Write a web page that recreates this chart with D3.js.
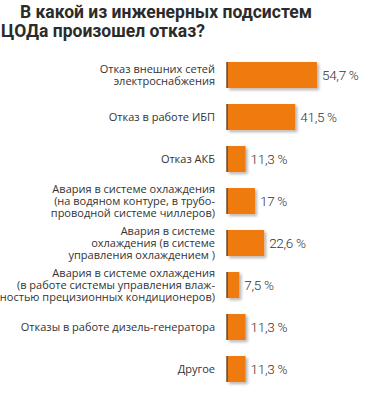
<!DOCTYPE html>
<html>
<head>
<meta charset="utf-8">
<script src="https://cdn.jsdelivr.net/npm/d3@7"></script>
<style>
  body { margin: 0; background: #fff; }
  text { font-family: Roboto, "Open Sans", sans-serif; fill: #333; }
</style>
</head>
<body>
<div id="chart"></div>
<script>
// data
const titleLines = ["В какой из инженерных подсистем", "ЦОДа произошел отказ?"];
const categories = [
  ["Отказ внешних сетей", "электроснабжения"],
  ["Отказ в работе ИБП"],
  ["Отказ АКБ"],
  ["Авария в системе охлаждения", "(на водяном контуре, в трубо-", "проводной системе чиллеров)"],
  ["Авария в системе", "охлаждения (в системе", "управления охлаждением )"],
  ["Авария в системе охлаждения", "(в работе системы управления влаж-", "ностью прецизионных кондиционеров)"],
  ["Отказы в работе дизель-генератора"],
  ["Другое"]
];
const values = [54.7, 41.5, 11.3, 17, 22.6, 7.5, 11.3, 11.3];
const valueLabels = ["54,7 %", "41,5 %", "11,3 %", "17 %", "22,6 %", "7,5 %", "11,3 %", "11,3 %"];

const W = 374, H = 402;
const svg = d3.select("#chart").append("svg")
  .attr("width", W)
  .attr("height", H);

// shadow for the bars
const defs = svg.append("defs");
const f = defs.append("filter").attr("id", "shadow")
  .attr("x", "-20%").attr("y", "-20%").attr("width", "150%").attr("height", "160%");
f.append("feDropShadow")
  .attr("dx", 2).attr("dy", 2).attr("stdDeviation", 1.6)
  .attr("flood-color", "#000").attr("flood-opacity", 0.3);

// title
svg.selectAll(".title")
  .data(titleLines)
  .enter().append("text")
  .attr("class", "title")
  .attr("x", (d, i) => i === 0 ? 20 : 1)
  .attr("y", (d, i) => 18 + i * 19)
  .style("font-size", "17.5px")
  .style("font-weight", "bold")
  .style("fill", "#2b2b2b")
  .text(d => d);

// scales
const x0 = 227;
const x = d3.scaleLinear().domain([0, 100]).range([0, 164.5]);
const y = d3.scaleBand()
  .domain(d3.range(categories.length))
  .range([54, 390])
  .paddingInner(0.38)
  .paddingOuter(0.19);

const rows = svg.selectAll(".row")
  .data(values)
  .enter().append("g")
  .attr("class", "row")
  .attr("transform", (d, i) => "translate(0," + y(i) + ")");

rows.append("rect")
  .attr("x", x0)
  .attr("width", d => x(d))
  .attr("height", y.bandwidth())
  .attr("fill", "#ef7a0d")
  .attr("filter", "url(#shadow)");

// dark left edge
rows.append("line")
  .attr("x1", x0).attr("x2", x0)
  .attr("y1", 0).attr("y2", y.bandwidth())
  .attr("stroke", "#5b3714")
  .attr("stroke-width", 1.3);

// value labels
rows.append("text")
  .attr("x", d => x0 + x(d) + 5)
  .attr("y", y.bandwidth() / 2)
  .attr("dy", "0.36em")
  .style("font-size", "13.5px")
  .style("font-weight", 300)
  .style("letter-spacing", "-0.3px")
  .text((d, i) => valueLabels[i]);

// category labels
const lineH = 11.8;
rows.append("text")
  .attr("text-anchor", "end")
  .style("font-family", "'Open Sans', sans-serif")
  .style("font-size", "11px")
  .each(function (d, i) {
    const lines = categories[i];
    const t = d3.select(this);
    lines.forEach((l, j) => {
      t.append("tspan")
        .attr("x", 215)
        .attr("y", y.bandwidth() / 2 + (j - (lines.length - 1) / 2) * lineH)
        .attr("dy", "0.36em")
        .text(l);
    });
  });
</script>
</body>
</html>
